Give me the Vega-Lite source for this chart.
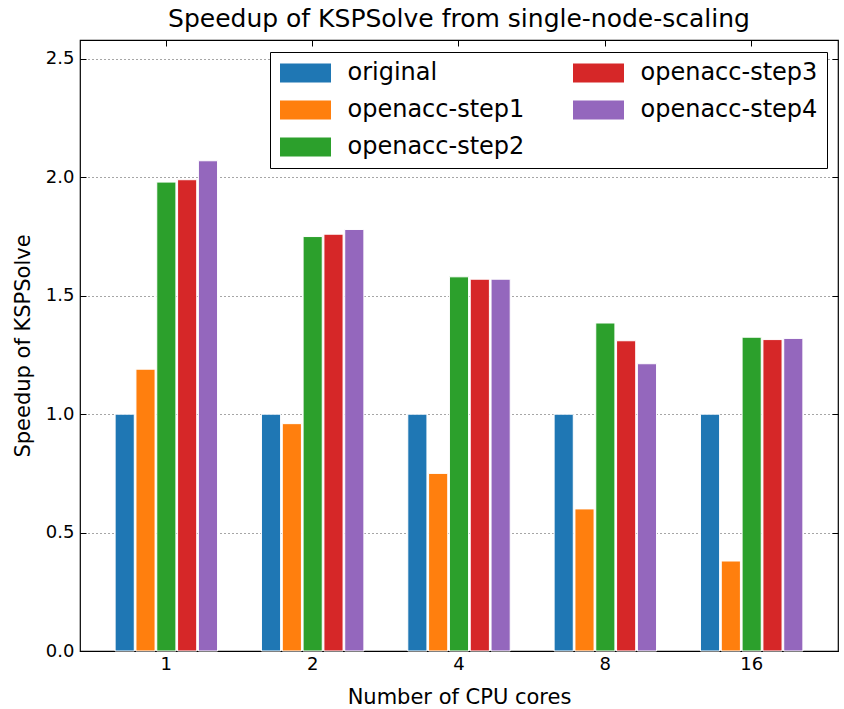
{
  "$schema": "https://vega.github.io/schema/vega-lite/v6.json",
  "width": 758,
  "height": 611,
  "autosize": {"type": "none"},
  "padding": {"left": 80, "top": 40, "right": 6, "bottom": 58},
  "background": "white",
  "title": {"text": "Speedup of KSPSolve from single-node-scaling", "font": "DejaVu Sans", "fontSize": 25, "fontWeight": "normal", "color": "black", "offset": 8},
  "config": {
    "view": {"stroke": "black", "strokeWidth": 1.2},
    "font": "DejaVu Sans"
  },
  "data": {"values": [
    {"cores": "1", "series": "original", "speedup": 1.0},
    {"cores": "1", "series": "openacc-step1", "speedup": 1.19},
    {"cores": "1", "series": "openacc-step2", "speedup": 1.98},
    {"cores": "1", "series": "openacc-step3", "speedup": 1.99},
    {"cores": "1", "series": "openacc-step4", "speedup": 2.07},
    {"cores": "2", "series": "original", "speedup": 1.0},
    {"cores": "2", "series": "openacc-step1", "speedup": 0.96},
    {"cores": "2", "series": "openacc-step2", "speedup": 1.75},
    {"cores": "2", "series": "openacc-step3", "speedup": 1.76},
    {"cores": "2", "series": "openacc-step4", "speedup": 1.78},
    {"cores": "4", "series": "original", "speedup": 1.0},
    {"cores": "4", "series": "openacc-step1", "speedup": 0.75},
    {"cores": "4", "series": "openacc-step2", "speedup": 1.58},
    {"cores": "4", "series": "openacc-step3", "speedup": 1.57},
    {"cores": "4", "series": "openacc-step4", "speedup": 1.57},
    {"cores": "8", "series": "original", "speedup": 1.0},
    {"cores": "8", "series": "openacc-step1", "speedup": 0.6},
    {"cores": "8", "series": "openacc-step2", "speedup": 1.385},
    {"cores": "8", "series": "openacc-step3", "speedup": 1.31},
    {"cores": "8", "series": "openacc-step4", "speedup": 1.213},
    {"cores": "16", "series": "original", "speedup": 1.0},
    {"cores": "16", "series": "openacc-step1", "speedup": 0.38},
    {"cores": "16", "series": "openacc-step2", "speedup": 1.325},
    {"cores": "16", "series": "openacc-step3", "speedup": 1.315},
    {"cores": "16", "series": "openacc-step4", "speedup": 1.32}
  ]},
  "layer": [
    {
      "mark": {"type": "bar", "stroke": "white", "strokeWidth": 1},
      "encoding": {
        "x": {
          "field": "cores", "type": "nominal", "sort": ["1", "2", "4", "8", "16"],
          "scale": {"paddingInner": 0.3, "paddingOuter": 0.24},
          "axis": {"title": "Number of CPU cores", "titleFontSize": 21, "titleFontWeight": "normal", "titleColor": "black", "titlePadding": 13,
                   "labelAngle": 0, "labelFontSize": 18, "labelColor": "black", "labelPadding": 10, "tickSize": -6, "tickColor": "black", "domain": false, "grid": false}
        },
        "xOffset": {
          "field": "series", "type": "nominal",
          "sort": ["original", "openacc-step1", "openacc-step2", "openacc-step3", "openacc-step4"],
          "scale": {"paddingInner": 0.08}
        },
        "y": {
          "field": "speedup", "type": "quantitative",
          "scale": {"domain": [0, 2.58], "nice": false, "zero": true},
          "axis": {"title": "Speedup of KSPSolve", "titleFontSize": 21, "titleFontWeight": "normal", "titleColor": "black", "titlePadding": 12,
                   "values": [0, 0.5, 1, 1.5, 2, 2.5], "format": ".1f", "labelFontSize": 18, "labelColor": "black", "labelPadding": 12,
                   "tickSize": -6, "tickColor": "black", "domain": false,
                   "grid": true, "gridColor": "black", "gridDash": [1, 3], "gridOpacity": 0.7, "gridWidth": 1}
        },
        "color": {
          "field": "series", "type": "nominal",
          "scale": {
            "domain": ["original", "openacc-step1", "openacc-step2", "openacc-step3", "openacc-step4"],
            "range": ["#1f77b4", "#ff7f0e", "#2ca02c", "#d62728", "#9467bd"]
          },
          "legend": {
            "title": null, "orient": "none", "legendX": 190, "legendY": 12, "columns": 2, "columnPadding": 47,
            "strokeColor": "black", "fillColor": "white", "padding": 9, "rowPadding": 13,
            "symbolType": "M-2.318,-0.864H2.318V0.864H-2.318Z", "symbolSize": 484, "symbolOffset": 14.5, "symbolStrokeWidth": 0, "symbolOpacity": 1,
            "labelFontSize": 24, "labelColor": "black", "labelOffset": 30, "labelLimit": 300
          }
        }
      }
    },
    {
      "mark": {"type": "bar", "opacity": 0},
      "encoding": {
        "x": {
          "field": "cores", "type": "nominal", "sort": ["1", "2", "4", "8", "16"],
          "axis": {"orient": "top", "title": null, "labels": false, "tickSize": -6, "tickColor": "black", "domain": false, "grid": false}
        },
        "xOffset": {
          "field": "series", "type": "nominal",
          "sort": ["original", "openacc-step1", "openacc-step2", "openacc-step3", "openacc-step4"]
        },
        "y": {
          "field": "speedup", "type": "quantitative",
          "axis": {"orient": "right", "title": null, "labels": false, "values": [0, 0.5, 1, 1.5, 2, 2.5], "tickSize": -6, "tickColor": "black", "domain": false, "grid": false}
        }
      }
    }
  ],
  "resolve": {"axis": {"x": "independent", "y": "independent"}}
}
